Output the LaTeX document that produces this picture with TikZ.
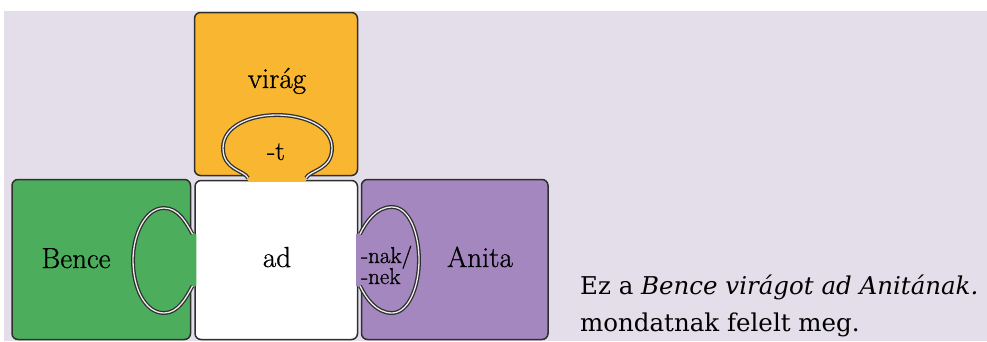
\documentclass[tikz,border=0pt]{standalone}
\usepackage{fontspec}
\newfontfamily\sidefont{DejaVu Serif}
\newfontfamily\lblfont{Latin Modern Roman}[FakeBold=0.8]
\definecolor{bgc}{HTML}{E3DEEA}
\definecolor{orangec}{HTML}{F9B731}
\definecolor{greenc}{HTML}{4CAE5D}
\definecolor{purplec}{HTML}{A387BE}
\definecolor{bdr}{HTML}{2F2F2F}
\definecolor{knobin}{HTML}{EDEDED}
\begin{document}
\begin{tikzpicture}[x=1pt,y=-1pt,
  box/.style={draw=bdr, line width=1.5pt, rounded corners=6pt},
  knob/.style={draw=bdr, line width=1.3pt, double=knobin, double distance=1.3pt},
  lbl/.style={font=\lblfont\fontsize{29}{30}\selectfont, anchor=base, inner sep=0pt},
  small/.style={font=\lblfont\fontsize{23}{20}\selectfont, inner sep=0pt},
  side/.style={font=\sidefont\fontsize{24.5}{30}\selectfont, anchor=base west, inner sep=0pt}]
\useasboundingbox (0,0) rectangle (987,341);
\fill[bgc] (4,11) rectangle (987,341);
% pieces
\draw[box, fill=orangec] (194.5,12.5) rectangle (357.5,175.5);
\draw[box, fill=white] (195,180.5) rectangle (357.5,339.5);
\draw[box, fill=greenc] (12,179.5) rectangle (190.5,339.5);
\draw[box, fill=purplec] (361.5,179.5) rectangle (548,339.5);
% knob fills
\fill[orangec] (248,178) .. controls (244,170) and (223,170) .. (223,148)
  .. controls (223,126) and (250,115) .. (277,115)
  .. controls (304,115) and (332,126) .. (332,148)
  .. controls (332,170) and (310,170) .. (306,178)
  -- (306,181.8) -- (248,181.8) -- cycle;
\fill[greenc] (192.5,234) .. controls (186,222) and (178,208) .. (164,208)
  .. controls (145,208) and (133,235) .. (133,260)
  .. controls (133,288) and (145,313) .. (164,313)
  .. controls (178,313) and (186,298) .. (192.5,286)
  -- (196.4,286) -- (196.4,234) -- cycle;
\fill[purplec] (360,234) .. controls (366,222) and (376,207) .. (392,207)
  .. controls (410,207) and (419,235) .. (419,260)
  .. controls (419,288) and (408,313) .. (392,313)
  .. controls (376,313) and (366,298) .. (360,286)
  -- (356.1,286) -- (356.1,234) -- cycle;
% knob outlines
\draw[knob] (248,178) .. controls (244,170) and (223,170) .. (223,148)
  .. controls (223,126) and (250,115) .. (277,115)
  .. controls (304,115) and (332,126) .. (332,148)
  .. controls (332,170) and (310,170) .. (306,178);
\draw[knob] (192.5,234) .. controls (186,222) and (178,208) .. (164,208)
  .. controls (145,208) and (133,235) .. (133,260)
  .. controls (133,288) and (145,313) .. (164,313)
  .. controls (178,313) and (186,298) .. (192.5,286);
\draw[knob] (360,234) .. controls (366,222) and (376,207) .. (392,207)
  .. controls (410,207) and (419,235) .. (419,260)
  .. controls (419,288) and (408,313) .. (392,313)
  .. controls (376,313) and (366,298) .. (360,286);
% labels
\node[lbl] (virag) at (277,88) {virág};
\node[lbl, font=\lblfont\fontsize{27}{28}\selectfont] (t) at (276,160) {-t};
\node[lbl] (bence) at (76,268) {Bence};
\node[lbl] (ad) at (277,267) {ad};
\node[lbl] (anita) at (480,267) {Anita};
\node[small, anchor=base west] (nak) at (361,263) {-nak/};
\node[small, anchor=base west] (nek) at (361,284) {-nek};
\node[side] (line1) at (580,294) {Ez a \textit{Bence virágot ad Anitának.}};
\node[side] (line2) at (580,331) {mondatnak felelt meg.};
\end{tikzpicture}
\end{document}
